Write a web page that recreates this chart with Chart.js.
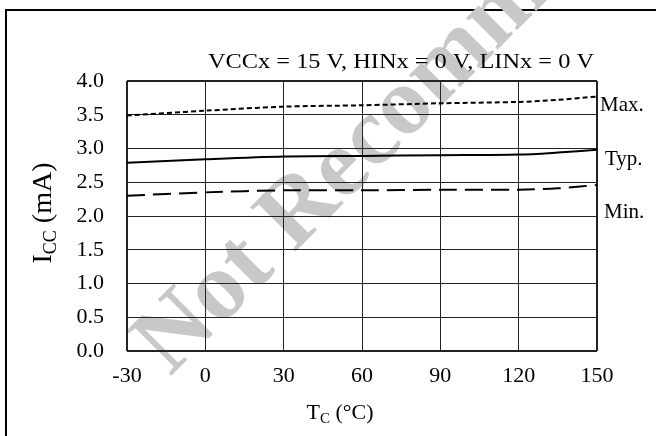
<!DOCTYPE html>
<html>
<head>
<meta charset="utf-8">
<title>ICC vs TC</title>
<script src="https://cdn.jsdelivr.net/npm/chart.js@4.4.0/dist/chart.umd.min.js"></script>
<style>
    html, body { margin: 0; padding: 0; background: #fff; }
    #wrap { position: relative; width: 656px; height: 436px; overflow: hidden; }
    #frame {
        position: absolute; left: 5px; top: 9px; width: 700px; height: 500px;
        border-top: 2px solid #000; border-left: 2px solid #000;
    }
    #chart { position: absolute; left: 0; top: 0; }
</style>
</head>
<body>
<div id="wrap">
    <div id="frame"></div>
    <canvas id="chart" width="656" height="436"></canvas>
</div>
<script>
// Temperatura de carcasa (°C) y corriente de alimentación (mA)
const temps = [-30, 0, 30, 60, 90, 120, 135, 150];
const maxCurrent = [3.49, 3.56, 3.62, 3.64, 3.67, 3.69, 3.72, 3.77];
const typCurrent = [2.79, 2.84, 2.88, 2.89, 2.90, 2.91, 2.94, 2.98];
const minCurrent = [2.30, 2.35, 2.38, 2.38, 2.39, 2.39, 2.41, 2.46];

const xTicks = [-30, 0, 30, 60, 90, 120, 150];
const yTicks = [0, 0.5, 1.0, 1.5, 2.0, 2.5, 3.0, 3.5, 4.0];

const seriesNames = ['Max.', 'Typ.', 'Min.'];
const conditionText = 'VCCx = 15 V, HINx = 0 V, LINx = 0 V';
const watermarkText = 'Not Recommended';

const FONT = '"Liberation Serif", "Times New Roman", serif';

function toPoints(values) {
    return temps.map((t, i) => ({ x: t, y: values[i] }));
}

// Texto con subíndice (p. ej. I_CC, T_C)
function drawSubText(ctx, parts, x, y, align) {
    let total = 0;
    parts.forEach(p => {
        ctx.font = p.size + 'px ' + FONT;
        p.w = ctx.measureText(p.t).width;
        total += p.w;
    });
    let cx = align === 'center' ? x - total / 2 : x;
    parts.forEach(p => {
        ctx.font = p.size + 'px ' + FONT;
        ctx.fillText(p.t, cx, y + (p.dy || 0));
        cx += p.w;
    });
}

const textPlugin = {
    id: 'chartText',
    beforeDraw(chart) {
        // Marca de agua, detrás de la rejilla
        const ctx = chart.ctx;
        ctx.save();
        ctx.translate(170, 377);
        ctx.rotate(-Math.PI / 4);
        ctx.font = 'bold 97px ' + FONT;
        ctx.fillStyle = '#c8c8c8';
        ctx.textAlign = 'left';
        ctx.textBaseline = 'alphabetic';
        ctx.fillText(watermarkText, 0, 0);
        ctx.restore();
    },
    afterDraw(chart) {
        const ctx = chart.ctx;
        const area = chart.chartArea;
        const yScale = chart.scales.y;
        ctx.save();
        ctx.fillStyle = '#000';
        ctx.textBaseline = 'alphabetic';

        // Condiciones de medida (algo ensanchadas, como en el original)
        ctx.font = '21px ' + FONT;
        ctx.textAlign = 'left';
        const w = ctx.measureText(conditionText).width;
        const targetW = 386;
        ctx.save();
        ctx.translate(area.right - 3 - targetW, 68);
        ctx.scale(targetW / w, 1);
        ctx.fillText(conditionText, 0, 0);
        ctx.restore();

        // Etiquetas de las curvas
        ctx.font = '21px ' + FONT;
        ctx.textAlign = 'left';
        ctx.textBaseline = 'middle';
        const labelAt = [3.63, 2.84, 2.05];
        const labelX = [area.right + 3, area.right + 8, area.right + 7];
        seriesNames.forEach((name, i) => {
            ctx.fillText(name, labelX[i], yScale.getPixelForValue(labelAt[i]));
        });

        // Títulos de los ejes
        ctx.textBaseline = 'alphabetic';
        ctx.textAlign = 'left';
        drawSubText(ctx, [
            { t: 'T', size: 22 },
            { t: 'C', size: 15, dy: 4 },
            { t: ' (°C)', size: 22 }
        ], 340, 419, 'center');

        ctx.save();
        ctx.translate(51, 213);
        ctx.rotate(-Math.PI / 2);
        drawSubText(ctx, [
            { t: 'I', size: 28 },
            { t: 'CC', size: 18, dy: 5 },
            { t: ' (mA)', size: 28 }
        ], 0, 0, 'center');
        ctx.restore();

        ctx.restore();
    }
};

const lineBase = {
    borderColor: '#000',
    borderWidth: 2,
    pointRadius: 0,
    tension: 0.3,
    fill: false
};

new Chart(document.getElementById('chart').getContext('2d'), {
    type: 'line',
    data: {
        datasets: [
            Object.assign({ label: seriesNames[0], data: toPoints(maxCurrent), borderDash: [5, 3] }, lineBase),
            Object.assign({ label: seriesNames[1], data: toPoints(typCurrent) }, lineBase),
            Object.assign({ label: seriesNames[2], data: toPoints(minCurrent), borderDash: [18, 8] }, lineBase)
        ]
    },
    options: {
        responsive: false,
        devicePixelRatio: 1,
        animation: false,
        layout: {
            padding: { top: 81, right: 59, left: 0, bottom: 0 }
        },
        plugins: {
            legend: { display: false },
            tooltip: { enabled: false }
        },
        scales: {
            x: {
                type: 'linear',
                min: -30,
                max: 150,
                afterBuildTicks: scale => { scale.ticks = xTicks.map(v => ({ value: v })); },
                afterFit: scale => { scale.height = 85; },
                ticks: {
                    color: '#000',
                    padding: 12,
                    font: { family: FONT, size: 22 },
                    callback: v => String(v)
                },
                grid: {
                    color: '#222',
                    drawTicks: false,
                    lineWidth: c => (c.tick && (c.tick.value === -30 || c.tick.value === 150)) ? 2 : 1
                },
                border: { display: false }
            },
            y: {
                min: 0,
                max: 4,
                afterBuildTicks: scale => { scale.ticks = yTicks.map(v => ({ value: v })); },
                afterFit: scale => { scale.width = 127; },
                ticks: {
                    color: '#000',
                    padding: 23,
                    font: { family: FONT, size: 22 },
                    callback: v => Number(v).toFixed(1)
                },
                grid: {
                    color: '#222',
                    drawTicks: false,
                    lineWidth: c => (c.tick && (c.tick.value === 0 || c.tick.value === 4)) ? 2 : 1
                },
                border: { display: false }
            }
        }
    },
    plugins: [textPlugin]
});
</script>
</body>
</html>
